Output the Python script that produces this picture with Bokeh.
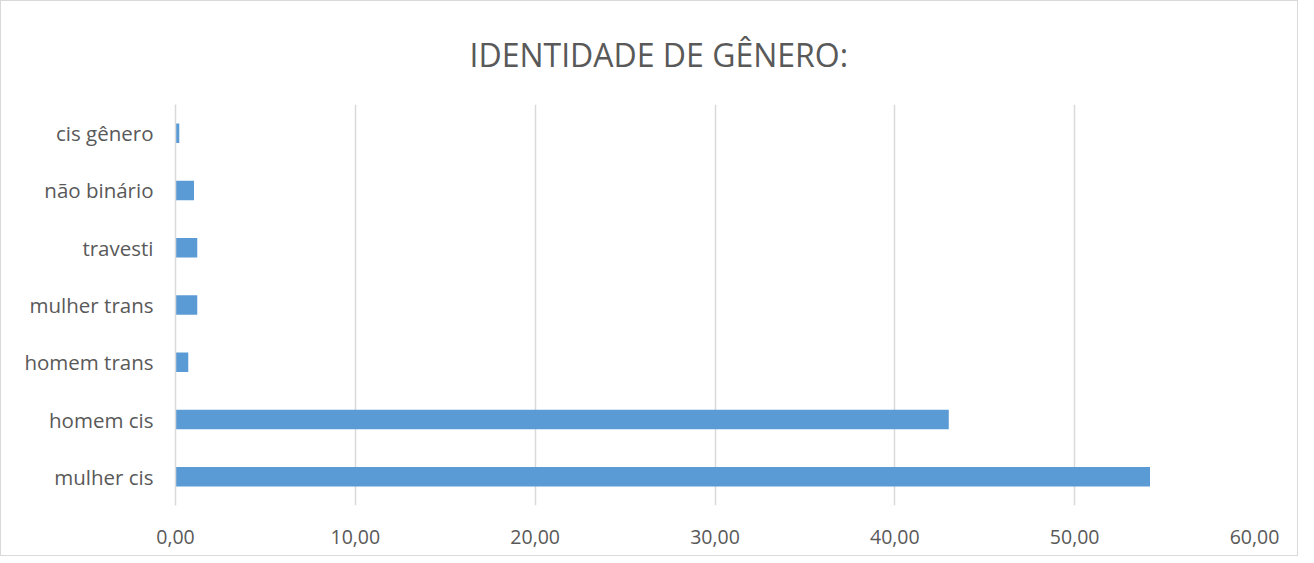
from bokeh.plotting import figure
from bokeh.models import Range1d, FactorRange, ColumnDataSource
from bokeh.embed import file_html
from bokeh.resources import INLINE

# Data
categories = ["mulher cis", "homem cis", "homem trans", "mulher trans",
              "travesti", "não binário", "cis gênero"]
values = [54.19, 43.00, 0.71, 1.21, 1.21, 1.03, 0.21]
x_ticks = [0, 10, 20, 30, 40, 50, 60]
x_tick_labels = ["0,00", "10,00", "20,00", "30,00", "40,00", "50,00", "60,00"]
title_text = "IDENTIDADE DE GÊNERO:"

FONT = "Open Sans"
TEXT_COLOR = "#595959"
GRID_COLOR = "#d9d9d9"
BAR_COLOR = "#5B9BD5"

p = figure(
    width=1298, height=556,
    y_range=FactorRange(factors=categories),
    x_range=Range1d(x_ticks[0], x_ticks[-1]),
    output_backend="svg", toolbar_location=None,
    min_border_left=174, min_border_right=45,
    min_border_top=102, min_border_bottom=52,
    title=title_text,
)
p.styles = {"border": "1px solid #d9d9d9"}

src = ColumnDataSource(dict(cat=categories, val=values))
p.hbar(y="cat", right="val", left=0, height=0.34, source=src,
       fill_color=BAR_COLOR, line_color=None)

# Title
p.title.align = "left"
p.title.offset = 294
p.title.text_font = FONT
p.title.text_font_size = "32px"
p.title.text_font_style = "normal"
p.title.text_color = TEXT_COLOR
p.title.standoff = 58

# Axes
p.outline_line_color = None
p.xaxis.ticker = x_ticks
p.xaxis.major_label_overrides = {t: l for t, l in zip(x_ticks, x_tick_labels)}
p.xaxis.axis_line_color = None
p.xaxis.major_tick_line_color = None
p.xaxis.minor_tick_line_color = None
p.xaxis.major_label_text_font = FONT
p.xaxis.major_label_text_font_size = "19.5px"
p.xaxis.major_label_text_color = TEXT_COLOR
p.xaxis.major_label_standoff = 18

p.yaxis.axis_line_color = GRID_COLOR
p.yaxis.axis_line_width = 1.5
p.yaxis.major_tick_line_color = None
p.yaxis.minor_tick_line_color = None
p.yaxis.major_label_text_font = FONT
p.yaxis.major_label_text_font_size = "20.5px"
p.yaxis.major_label_text_color = TEXT_COLOR
p.yaxis.major_label_standoff = 16

p.xgrid.grid_line_color = GRID_COLOR
p.xgrid.grid_line_width = 1.5
p.xgrid.ticker = x_ticks
p.ygrid.grid_line_color = None

open("out.html", "w").write(file_html(p, INLINE))
